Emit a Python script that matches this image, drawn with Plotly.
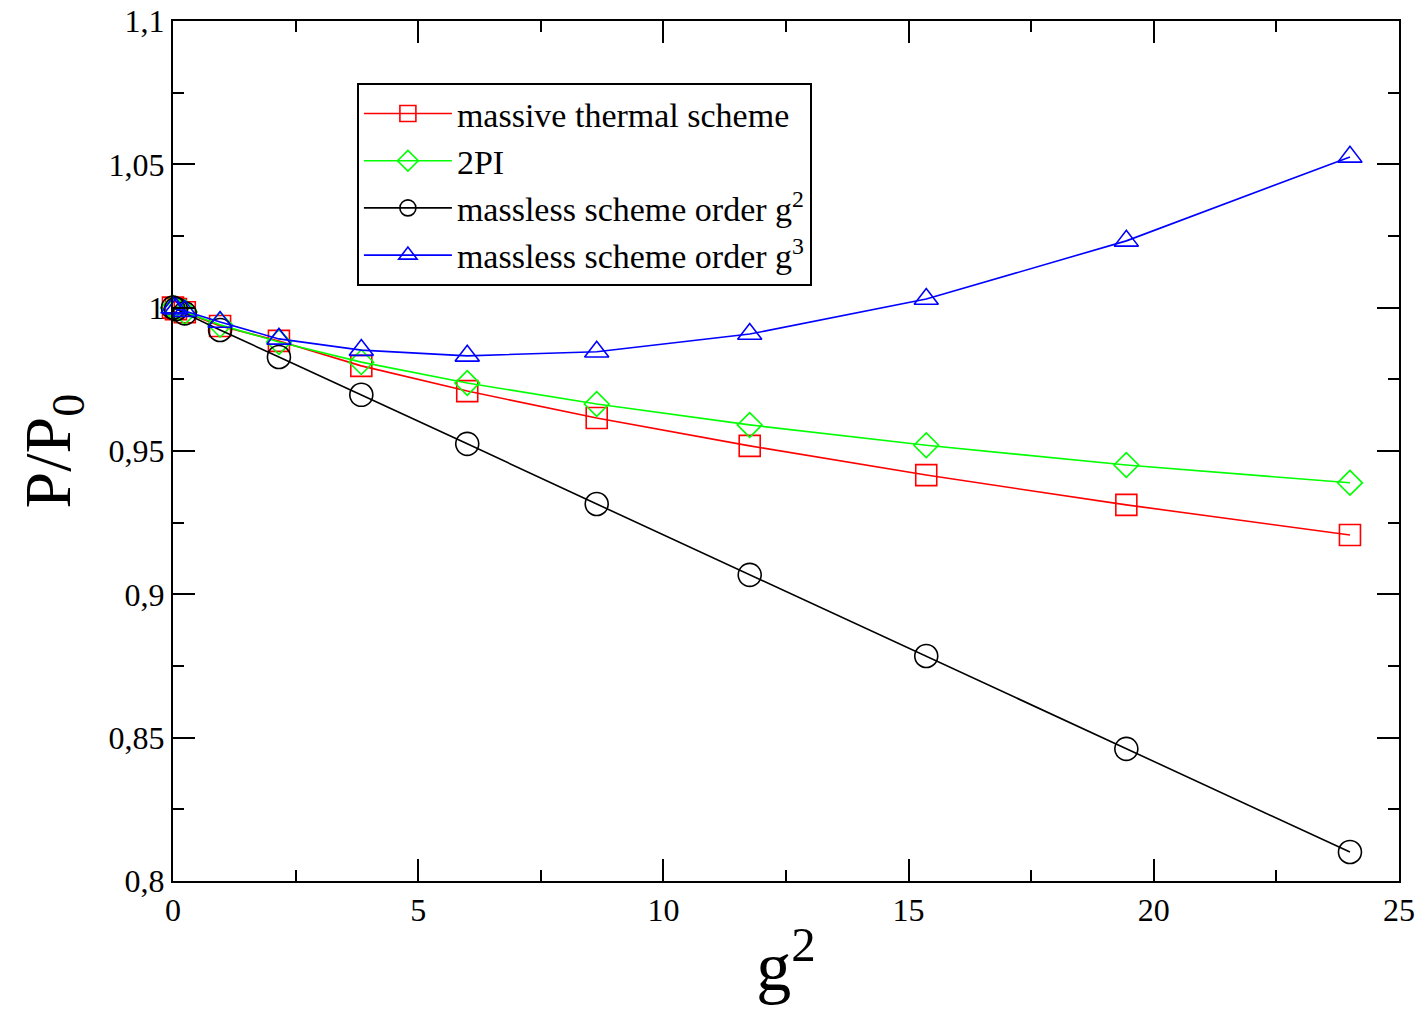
import plotly.graph_objects as go

g2 = [0.0, 0.06, 0.24, 0.96, 2.16, 3.84, 6.0, 8.64, 11.76, 15.36, 19.44, 24.0]

massive_thermal = [1.0, 0.9995, 0.9984, 0.9936, 0.9884, 0.9797, 0.9709, 0.9615, 0.9518, 0.9416, 0.9312, 0.9207]
two_pi = [1.0, 0.9995, 0.9985, 0.9940, 0.9880, 0.9810, 0.9737, 0.9664, 0.9591, 0.9520, 0.9451, 0.9389]
massless_g2 = [1.0, 0.9995, 0.9980, 0.9922, 0.9828, 0.9696, 0.9525, 0.9315, 0.9068, 0.8785, 0.8461, 0.8101]
massless_g3 = [1.0, 0.9996, 0.9988, 0.9950, 0.9891, 0.9852, 0.9832, 0.9846, 0.9908, 1.0030, 1.0233, 1.0526]

y_tickvals = [0.8, 0.85, 0.9, 0.95, 1.0, 1.05, 1.1]
y_ticktext = ["0,8", "0,85", "0,9", "0,95", "1", "1,05", "1,1"]
x_tickvals = [0, 5, 10, 15, 20, 25]
x_ticktext = ["0", "5", "10", "15", "20", "25"]

series = [
    ("massive thermal scheme", massive_thermal, "#ff0000", "square-open", 21),
    ("2PI", two_pi, "#00ff00", "diamond-open", 19),
    ("massless scheme order g<sup>2</sup>", massless_g2, "#000000", "circle-open", 23),
    ("massless scheme order g<sup>3</sup>", massless_g3, "#0000ff", "triangle-up-open", 21),
]

fig = go.Figure()
for name, ys, col, sym, sz in series:
    fig.add_trace(go.Scatter(
        x=g2, y=ys, name=name, mode="lines+markers",
        line=dict(color=col, width=1.6),
        marker=dict(symbol=sym, size=sz, color=col, line=dict(color=col, width=1.6)),
        cliponaxis=False,
    ))

font_family = "Liberation Serif"
axis_common = dict(
    showgrid=False, zeroline=False, showline=True, linecolor="black", linewidth=2,
    mirror="allticks", ticks="inside", ticklen=22, tickwidth=1.5, tickcolor="black",
    tickfont=dict(family=font_family, size=32, color="black"),
    automargin=False,
)

fig.update_layout(
    width=1427, height=1025,
    margin=dict(l=173, r=28, t=21, b=144),
    paper_bgcolor="white", plot_bgcolor="white",
    font=dict(family=font_family, color="black"),
    showlegend=True,
    legend=dict(
        x=0.15, y=0.928, xanchor="left", yanchor="top",
        bordercolor="black", borderwidth=2, bgcolor="white",
        font=dict(family=font_family, size=34, color="black"),
        itemwidth=88, tracegroupgap=0,
    ),
)
fig.update_xaxes(
    range=[0, 25], tickvals=x_tickvals, ticktext=x_ticktext,
    minor=dict(dtick=2.5, tick0=0, ticks="inside", ticklen=11, tickcolor="black", tickwidth=1.5),
    title=dict(text="g<sup>2</sup>", font=dict(family=font_family, size=70), standoff=14),
    **axis_common,
)
fig.update_yaxes(
    range=[0.8, 1.1], tickvals=y_tickvals, ticktext=y_ticktext,
    minor=dict(dtick=0.025, tick0=0.8, ticks="inside", ticklen=11, tickcolor="black", tickwidth=1.5),
    title=dict(text="P/P<sub>0</sub>", font=dict(family=font_family, size=66), standoff=16),
    **axis_common,
)

fig.write_html("out.html")
